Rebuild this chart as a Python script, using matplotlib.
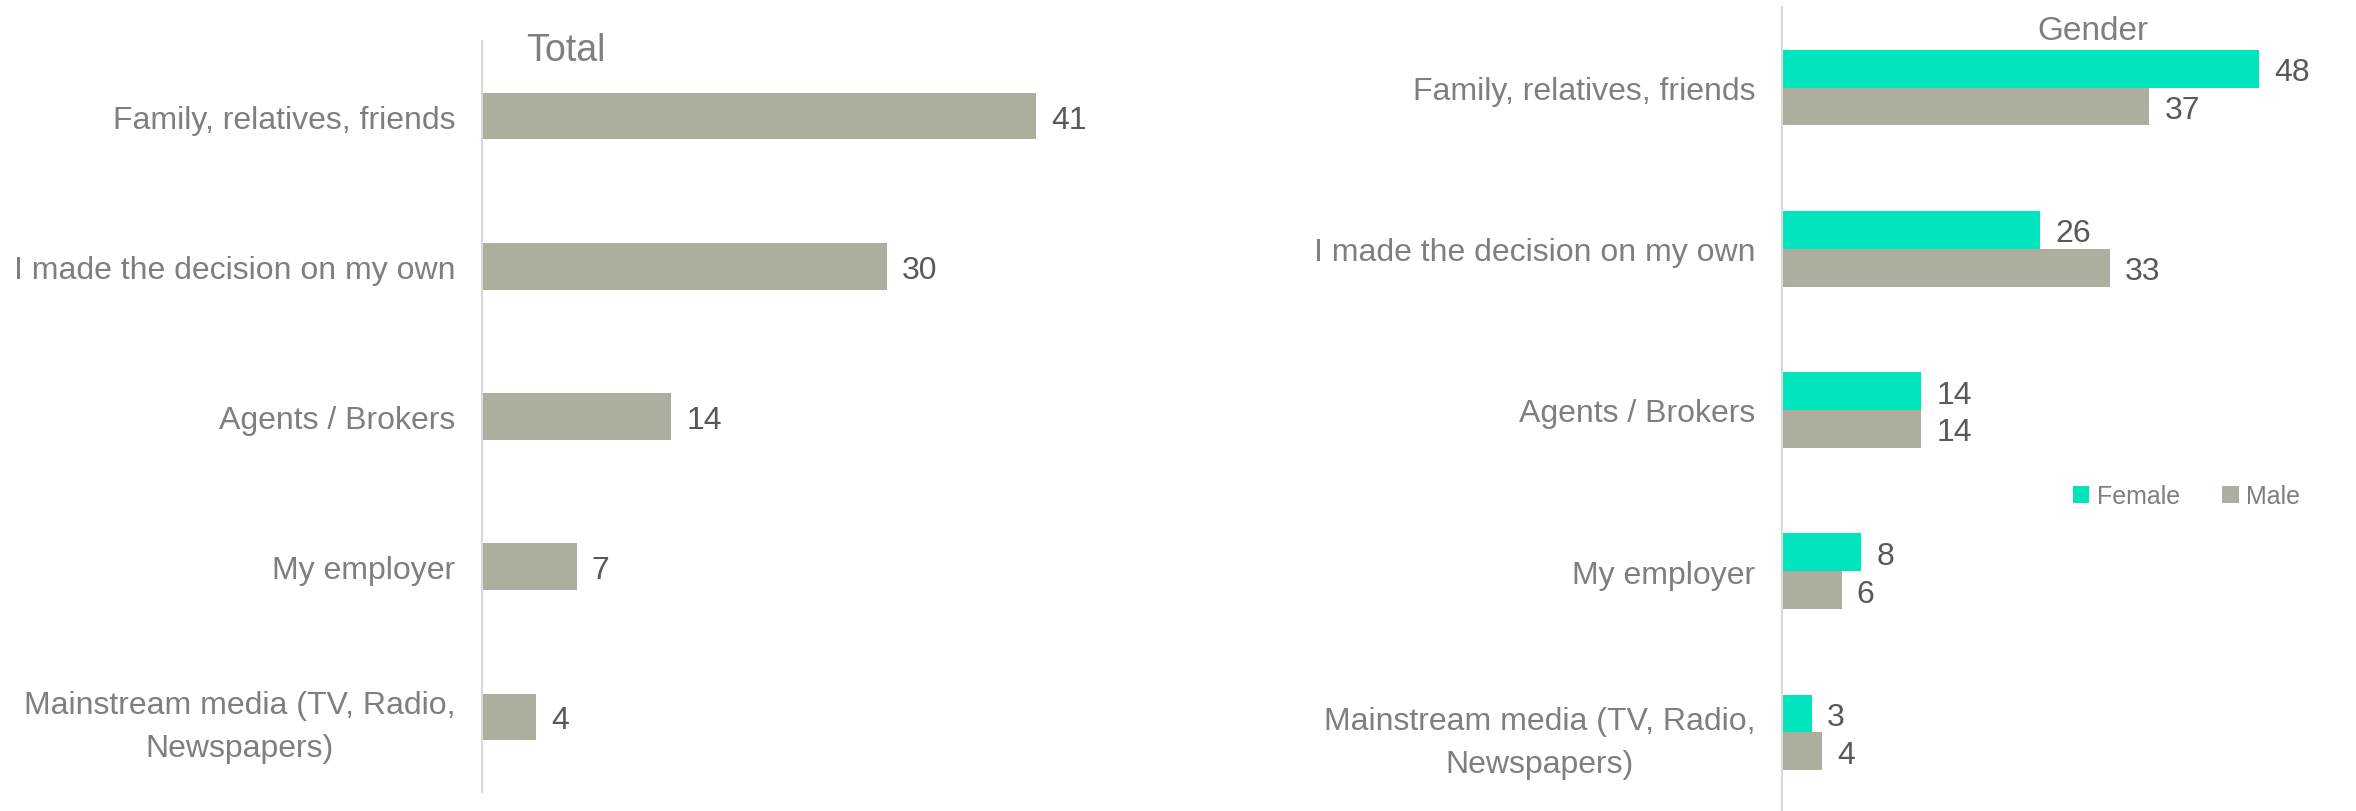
import matplotlib.pyplot as plt
import numpy as np

plt.rcParams['font.family'] = ['Liberation Sans', 'DejaVu Sans']

categories = ["Family, relatives, friends", "I made the decision on my own",
              "Agents / Brokers", "My employer",
              "Mainstream media (TV, Radio,\nNewspapers)"]
total = [41, 30, 14, 7, 4]
female = [48, 26, 14, 8, 3]
male = [37, 33, 14, 6, 4]

gray = '#ADAE9D'
teal = '#00E5BE'
label_col = '#7F7F7F'
value_col = '#595959'
W, H = 2356, 812

fig = plt.figure(figsize=(W / 100, H / 100), dpi=100)

def style(ax):
    for s in ['top', 'right', 'bottom']:
        ax.spines[s].set_visible(False)
    ax.spines['left'].set_color('#D9D9D9')
    ax.spines['left'].set_linewidth(1.5)
    ax.set_xticks([])
    ax.tick_params(axis='y', length=0, pad=19, labelsize=23, labelcolor=label_col)
    for lab in ax.get_yticklabels():
        lab.set_multialignment('center')
        lab.set_linespacing(1.55)

def values(ax, bars):
    for t in ax.bar_label(bars, padding=11, fontsize=23, color=value_col):
        t.set_verticalalignment('center_baseline')

y = np.arange(len(categories))

# left panel: total
ax1 = fig.add_axes([482 / W, 19 / H, 675 / W, 751 / H])
b = ax1.barh(y, total, height=0.31, color=gray)
values(ax1, b)
ax1.set_yticks(y, categories)
ax1.set_ylim(4.5, -0.5)
ax1.set_xlim(0, 50)
style(ax1)
fig.text(526 / W, 1 - 51 / H, "Total", fontsize=27, color=label_col, ha='left', va='center')

# right panel: gender
h = 0.235
ax2 = fig.add_axes([1782 / W, -2 / H, 546 / W, 806 / H])
bf = ax2.barh(y - h / 2, female, height=h, color=teal, label='Female')
bm = ax2.barh(y + h / 2, male, height=h, color=gray, label='Male')
values(ax2, bf)
values(ax2, bm)
ax2.set_yticks(y, categories)
ax2.set_ylim(4.5, -0.5)
ax2.set_xlim(0, 55)
style(ax2)
fig.text(2093 / W, 1 - 31 / H, "Gender", fontsize=24, color=label_col, ha='center', va='center')

leg = fig.legend(handles=[bf, bm], loc='center left', bbox_to_anchor=(2073 / W, 1 - 497 / H),
                 ncol=2, frameon=False, fontsize=18, handlelength=0.65, handleheight=0.65,
                 handletextpad=0.3, columnspacing=1.7, borderpad=0, borderaxespad=0)
for t in leg.get_texts():
    t.set_color(label_col)

fig.savefig('out.png', dpi=100)
